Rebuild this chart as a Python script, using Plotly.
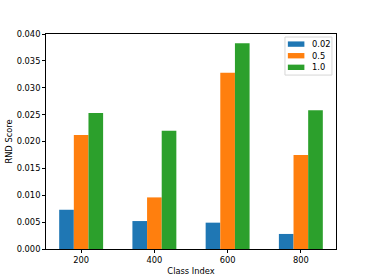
import plotly.graph_objects as go

categories = ["200", "400", "600", "800"]
series_names = ["0.02", "0.5", "1.0"]
vals_002 = [0.0073, 0.0052, 0.0049, 0.0028]
vals_05 = [0.0212, 0.0096, 0.0328, 0.0175]
vals_10 = [0.0253, 0.0220, 0.0383, 0.0258]
y_ticks = [0.000, 0.005, 0.010, 0.015, 0.020, 0.025, 0.030, 0.035, 0.040]

colors = ["#1f77b4", "#ff7f0e", "#2ca02c"]
width = 0.2
offsets = [-0.2, 0.0, 0.2]
series = [vals_002, vals_05, vals_10]

fig = go.Figure()
base = list(range(len(categories)))
for name, vals, col, off in zip(series_names, series, colors, offsets):
    fig.add_trace(go.Bar(
        x=[b + off for b in base], y=vals, name=name, width=width,
        marker=dict(color=col, line=dict(width=0)), showlegend=False,
    ))

font = dict(family="DejaVu Sans", size=8.3, color="black")

# compact matplotlib-style legend (paper coordinates of the plot area)
shapes = [dict(type="rect", xref="paper", yref="paper", x0=0.824, x1=0.986, y0=0.809, y1=0.986,
               fillcolor="rgba(255,255,255,0.8)", line=dict(color="#d6d6d6", width=1), layer="above")]
annotations = []
centers = [0.953, 0.899, 0.845]
for name, col, yc in zip(series_names, colors, centers):
    shapes.append(dict(type="rect", xref="paper", yref="paper", x0=0.834, x1=0.891,
                       y0=yc - 0.0125, y1=yc + 0.0125, fillcolor=col, line=dict(width=0), layer="above"))
    annotations.append(dict(xref="paper", yref="paper", x=0.912, y=yc, text=name, showarrow=False,
                            xanchor="left", yanchor="middle", font=font))

fig.update_layout(
    width=373, height=280,
    margin=dict(l=46, r=37, t=34, b=31, autoexpand=False),
    paper_bgcolor="white", plot_bgcolor="white",
    font=font,
    barmode="overlay",
    showlegend=False,
    shapes=shapes, annotations=annotations,
    xaxis=dict(range=[-0.48, 3.48], tickmode="array", tickvals=base, ticktext=categories,
               showline=True, linecolor="black", linewidth=0.8, mirror=True, automargin=False,
               ticks="outside", ticklen=3, tickcolor="black", showgrid=False, zeroline=False,
               title=dict(text="Class Index", font=font, standoff=4)),
    yaxis=dict(range=[0, 0.04], tickmode="array", tickvals=y_ticks,
               ticktext=[f"{v:.3f}" for v in y_ticks], automargin=False,
               showline=True, linecolor="black", linewidth=0.8, mirror=True,
               ticks="outside", ticklen=3, tickcolor="black", showgrid=False, zeroline=False,
               title=dict(text="RND Score", font=font, standoff=2)),
)
fig.write_html("out.html", config={"displayModeBar": False},
               post_script="document.body.style.margin='0';document.body.style.overflow='hidden';")
